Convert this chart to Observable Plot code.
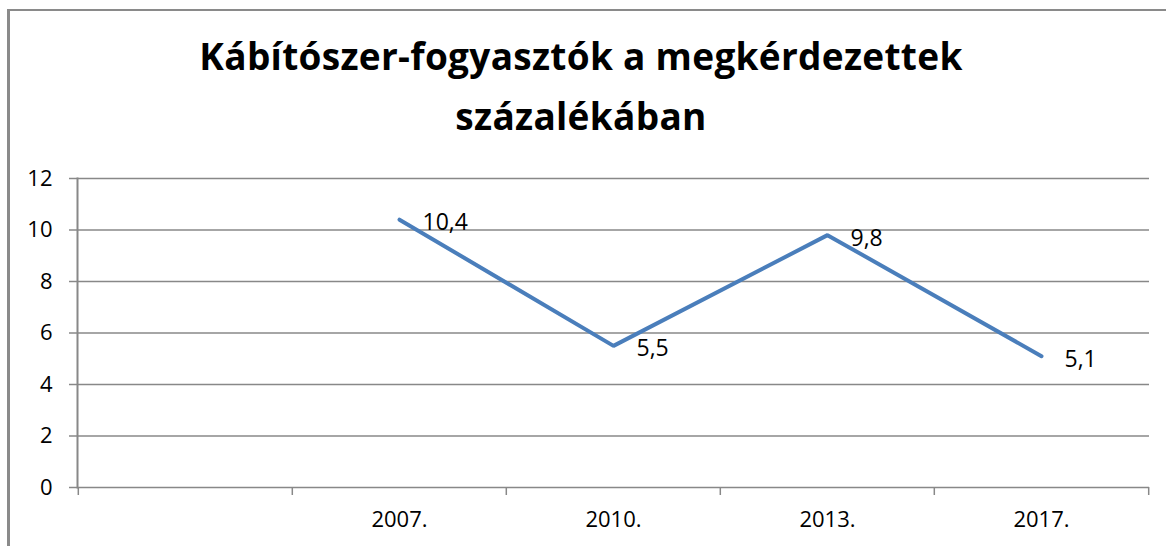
<!DOCTYPE html>
<html>
<head>
<meta charset="utf-8">
<script src="https://cdn.jsdelivr.net/npm/d3@7"></script>
<script src="https://cdn.jsdelivr.net/npm/@observablehq/plot@0.6"></script>
<style>
  html, body { margin: 0; padding: 0; background: #fff; }
  body { width: 1166px; height: 546px; position: relative; overflow: hidden; font-family: "Open Sans", sans-serif; }
  #border { position: absolute; left: 7px; top: 9px; width: 1200px; height: 600px;
            border-left: 3px solid #8a8a8a; border-top: 2px solid #8a8a8a; }
  #title { position: absolute; left: 0; top: 26px; width: 1162px; text-align: center;
           font-family: "Open Sans", sans-serif; font-weight: 700; font-size: 37px; letter-spacing: 0.3px;
           line-height: 60px; color: #000; }
  #chart { position: absolute; left: 0; top: 150px; }
</style>
</head>
<body>
<div id="border"></div>
<div id="title">Kábítószer-fogyasztók a megkérdezettek<br>százalékában</div>
<div id="chart"></div>
<script>
const categories = ["", "2007.", "2010.", "2013.", "2017."];
const years = ["2007.", "2010.", "2013.", "2017."];
const values = [10.4, 5.5, 9.8, 5.1];
const yTicks = [0, 2, 4, 6, 8, 10, 12];

const data = years.map((c, i) => ({cat: c, value: values[i]}));

const W = 1166, H = 396, ML = 77, MR = 17, MT = 28, MB = 59;
const bw = (W - ML - MR) / categories.length;

const chart = Plot.plot({
  width: W, height: H,
  marginLeft: ML, marginRight: MR, marginTop: MT, marginBottom: MB,
  style: {fontFamily: "'Open Sans', sans-serif", background: "transparent"},
  x: {type: "band", domain: categories, paddingInner: 0, paddingOuter: 0, label: null},
  y: {domain: [0, 12], label: null},
  marks: [
    Plot.gridY(yTicks, {stroke: "#888", strokeOpacity: 1, strokeWidth: 1.5}),
    Plot.axisY(yTicks, {tickSize: 8, tickPadding: 17, stroke: "#888", strokeWidth: 1.5, fill: "#000", fontSize: 22, label: null}),
    Plot.frame({anchor: "left", stroke: "#888", strokeWidth: 2}),
    Plot.axisX(categories, {tickSize: 8, tickFormat: () => "", dx: -bw / 2, stroke: "#888", strokeWidth: 1.5, label: null}),
    Plot.axisX([categories[categories.length - 1]], {tickSize: 8, tickFormat: () => "", dx: bw / 2, stroke: "#888", strokeWidth: 1.5, label: null}),
    Plot.axisX(years, {tickSize: 0, tickPadding: 24, fill: "#000", fontSize: 22, label: null}),
    Plot.line(data, {x: "cat", y: "value", stroke: "#4A7EBB", strokeWidth: 4, strokeLinejoin: "miter"}),
    Plot.text(data, {x: "cat", y: "value", text: d => String(d.value).replace(".", ","), textAnchor: "start", dx: 23, dy: 3, fontSize: 23, fill: "#000"})
  ]
});
document.getElementById("chart").appendChild(chart);
</script>
</body>
</html>
